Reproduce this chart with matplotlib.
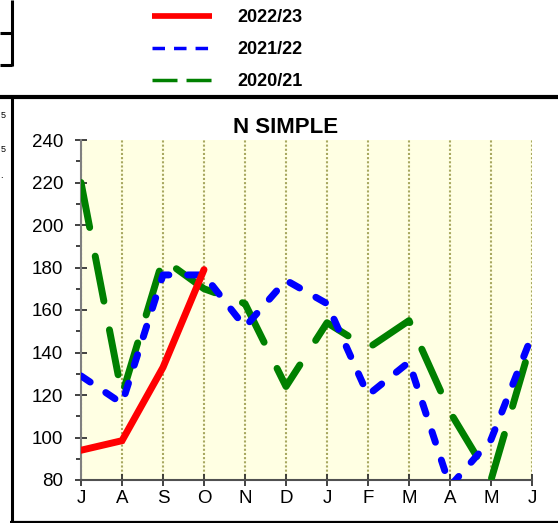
import numpy as np
import matplotlib.pyplot as plt
from matplotlib.lines import Line2D
from matplotlib.ticker import MultipleLocator

# month initials, July -> June
months = ['J', 'A', 'S', 'O', 'N', 'D', 'J', 'F', 'M', 'A', 'M', 'J']
labels = ['2022/23', '2021/22', '2020/21']

# values
s2223 = [94, 98.5, 133, 179]
s2122 = [129, 116, 176.5, 176.5, 152, 174, 163, 120, 135.5, 77, 99, 148]
s2021 = [220, 120, 184, 170, 163, 124, 154, 142, 155, 112, 80, 146]

W, H = 558, 523
narrow = ['Liberation Sans Narrow', 'Liberation Sans', 'DejaVu Sans']
plt.rcParams['font.family'] = narrow

fig = plt.figure(figsize=(W / 100, H / 100), dpi=100)

def fx(px):
    return px / W

def fy(py):
    return 1 - py / H

ax = fig.add_axes([fx(81), fy(480), fx(532) - fx(81), fy(140) - fy(480)])
ax.set_facecolor('#FFFFE3')

x = np.arange(len(months))
lw = 5
ax.plot(x, s2021, color='#008000', lw=lw, dashes=(6.6, 4.2),
        dash_capstyle='round', solid_capstyle='round', zorder=3)
ax.plot(x, s2122, color='#0000FF', lw=lw, dashes=(1.6, 2.7),
        dash_capstyle='round', solid_capstyle='round', zorder=4)
ax.plot(x[:len(s2223)], s2223, color='#FF0000', lw=lw,
        solid_capstyle='round', solid_joinstyle='miter', zorder=5)

ax.set_xlim(0, 11)
ax.set_ylim(80, 240)
ax.set_xticks(x)
ax.set_xticklabels(months)
ax.yaxis.set_major_locator(MultipleLocator(20))
ax.yaxis.set_minor_locator(MultipleLocator(10))
ax.grid(axis='x', color='#A8A860', linestyle=(0, (1, 1)), lw=1.5, zorder=1)

for s in ['top', 'right']:
    ax.spines[s].set_visible(False)
ax.spines['left'].set_color('#808080')
ax.spines['left'].set_linewidth(1.5)
ax.spines['bottom'].set_color('#505050')
ax.spines['bottom'].set_linewidth(1.5)
ax.tick_params(axis='both', which='major', direction='inout', length=8.6,
               width=1.3, color='#333333', labelsize=13.5)
ax.tick_params(axis='y', which='minor', direction='out', length=3.6,
               width=1.3, color='#333333')
ax.tick_params(axis='y', which='major', pad=8.6)
ax.tick_params(axis='x', which='major', pad=3)

fig.text(fx(286), fy(127), 'N SIMPLE', ha='center', va='center',
         fontsize=16, fontweight='bold', family=narrow)

# legend
handles = [
    Line2D([], [], color='#FF0000', lw=4.1, solid_capstyle='butt'),
    Line2D([], [], color='#0000FF', lw=2.5, dashes=(3.6, 2.6), dash_capstyle='butt'),
    Line2D([], [], color='#008000', lw=2.5, dashes=(7.2, 2.6), dash_capstyle='butt'),
]
fig.legend(handles, labels, loc='upper left', bbox_to_anchor=(fx(152), fy(9)),
           frameon=False, borderpad=0, borderaxespad=0, handlelength=3.33,
           handletextpad=1.39, labelspacing=0.84,
           prop={'family': ['Liberation Sans', 'DejaVu Sans'], 'weight': 'bold', 'size': 13})

# frame lines around the panel
def hline(y, x0, x1, w):
    fig.add_artist(Line2D([fx(x0), fx(x1)], [fy(y), fy(y)], color='black', lw=w,
                          transform=fig.transFigure, solid_capstyle='butt'))

def vline(xp, y0, y1, w):
    fig.add_artist(Line2D([fx(xp), fx(xp)], [fy(y0), fy(y1)], color='black', lw=w,
                          transform=fig.transFigure, solid_capstyle='butt'))

hline(97, 0, W, 3)
vline(11.5, 97, 522, 2.2)
hline(521.5, 10, W, 1.6)
vline(11.5, 0, 66, 2.2)
hline(33, 0, 12, 2.2)
hline(65, 0, 12, 2.2)

# small text fragments at the far left edge
for yy, t in [(116, '5'), (150, '5'), (176, '.')]:
    fig.text(fx(0.5), fy(yy), t, ha='left', va='center', fontsize=6.5)

fig.savefig('out.png', dpi=100)
